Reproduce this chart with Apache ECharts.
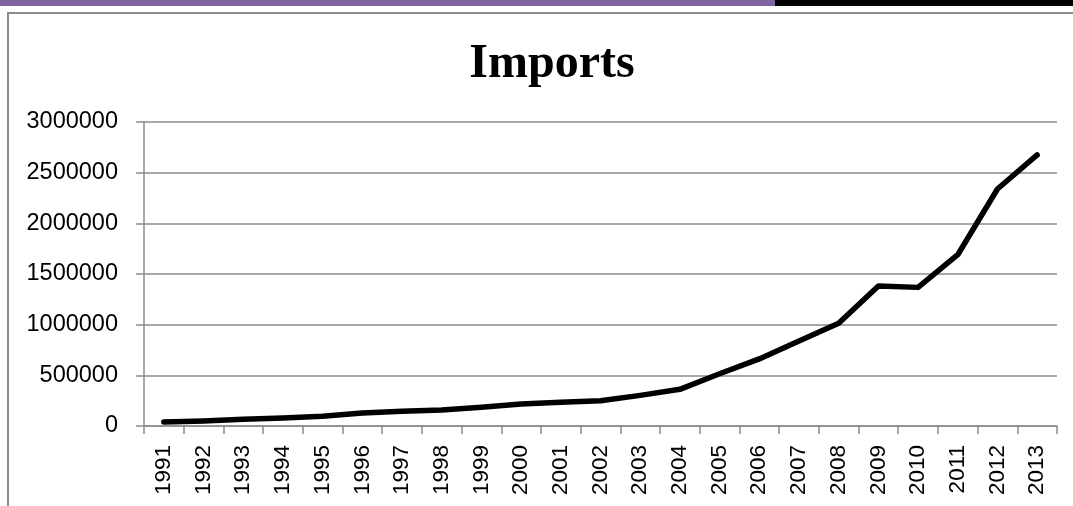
<!DOCTYPE html>
<html>
<head>
<meta charset="utf-8">
<style>
  html, body { margin: 0; padding: 0; background: #fff; }
  #chart { width: 1073px; height: 506px; }
</style>
<script src="https://cdn.jsdelivr.net/npm/echarts@6/dist/echarts.min.js"></script>
</head>
<body>
<div id="chart"></div>
<script>
const years = ['1991','1992','1993','1994','1995','1996','1997','1998','1999','2000','2001','2002','2003','2004','2005','2006','2007','2008','2009','2010','2011','2012','2013'];
const imports = [40000, 50000, 66000, 79000, 96000, 128000, 145000, 158000, 184000, 217000, 234000, 250000, 302000, 362000, 515000, 662000, 839000, 1014000, 1382000, 1368000, 1690000, 2339000, 2675000];
const yTicks = { min: 0, max: 3000000, interval: 500000 };
const titleText = 'Imports';

const chart = echarts.init(document.getElementById('chart'), null, { renderer: 'canvas' });
const gray = '#8c8c8c';
chart.setOption({
  animation: false,
  backgroundColor: '#ffffff',
  title: {
    text: titleText,
    left: 547,
    textAlign: 'center',
    top: 36,
    textStyle: { fontFamily: 'Liberation Serif', fontWeight: 'bold', fontSize: 48, color: '#000' }
  },
  graphic: [
    { type: 'rect', shape: { x: 0, y: 0, width: 775, height: 6 }, style: { fill: '#8064a2' } },
    { type: 'rect', shape: { x: 775, y: 0, width: 298, height: 6 }, style: { fill: '#000000' } },
    { type: 'line', shape: { x1: 8, y1: 13, x2: 1073, y2: 13 }, style: { stroke: gray, lineWidth: 2 } },
    { type: 'line', shape: { x1: 8, y1: 12, x2: 8, y2: 506 }, style: { stroke: gray, lineWidth: 2 } }
  ],
  grid: { left: 144, right: 16, top: 122, bottom: 80, containLabel: false },
  xAxis: {
    type: 'category',
    data: years,
    boundaryGap: true,
    axisLine: { show: true, lineStyle: { color: gray, width: 1.5 } },
    axisTick: { show: true, length: 8, alignWithLabel: false, lineStyle: { color: gray, width: 1.5 } },
    axisLabel: { rotate: 90, margin: 19, interval: 0, fontFamily: 'Liberation Sans', fontSize: 22.5, color: '#000' },
    splitLine: { show: false }
  },
  yAxis: {
    type: 'value',
    min: yTicks.min,
    max: yTicks.max,
    interval: yTicks.interval,
    axisLine: { show: true, lineStyle: { color: gray, width: 1.5 } },
    axisTick: { show: true, length: 8, lineStyle: { color: gray, width: 1.5 } },
    axisLabel: { margin: 26, fontFamily: 'Liberation Sans', fontSize: 23.5, color: '#000', formatter: function (v) { return String(v); } },
    splitLine: { show: true, lineStyle: { color: gray, width: 1.5 } }
  },
  series: [{
    type: 'line',
    data: imports,
    showSymbol: false,
    symbol: 'none',
    lineStyle: { color: '#000', width: 5.5, cap: 'round', join: 'round' },
    itemStyle: { color: '#000' }
  }]
});
</script>
</body>
</html>
